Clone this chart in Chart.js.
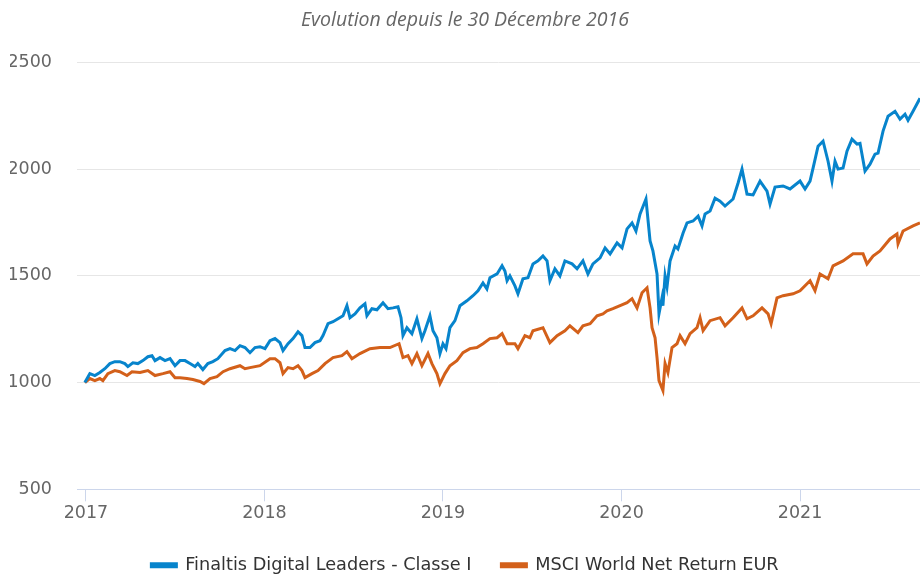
<!DOCTYPE html>
<html>
<head>
<meta charset="utf-8">
<script src="https://cdn.jsdelivr.net/npm/chart.js@4"></script>
<style>
  body { margin: 0; background: #fff; }
</style>
</head>
<body>
<canvas id="myChart" width="920" height="575"></canvas>
<script>
// dates as decimal years, values rebased to 1000 on 30/12/2016
var fundYears = [2016.994,2017.022,2017.050,2017.078,2017.106,2017.134,2017.162,2017.190,2017.218,2017.235,2017.263,2017.291,2017.319,2017.347,2017.370,2017.387,2017.415,2017.443,2017.471,2017.499,2017.527,2017.555,2017.583,2017.611,2017.627,2017.655,2017.683,2017.711,2017.739,2017.779,2017.807,2017.835,2017.863,2017.891,2017.919,2017.947,2017.975,2018.003,2018.031,2018.059,2018.087,2018.104,2018.132,2018.160,2018.188,2018.210,2018.227,2018.255,2018.283,2018.311,2018.328,2018.356,2018.384,2018.412,2018.440,2018.462,2018.479,2018.507,2018.535,2018.563,2018.574,2018.602,2018.630,2018.664,2018.692,2018.720,2018.748,2018.765,2018.776,2018.798,2018.826,2018.854,2018.882,2018.899,2018.927,2018.944,2018.966,2018.983,2019.000,2019.017,2019.039,2019.067,2019.095,2019.134,2019.168,2019.196,2019.224,2019.246,2019.263,2019.303,2019.331,2019.347,2019.359,2019.375,2019.403,2019.420,2019.448,2019.476,2019.504,2019.532,2019.560,2019.583,2019.599,2019.627,2019.655,2019.683,2019.723,2019.751,2019.784,2019.812,2019.840,2019.880,2019.908,2019.936,2019.975,2020.003,2020.031,2020.059,2020.081,2020.104,2020.137,2020.160,2020.176,2020.199,2020.210,2020.227,2020.232,2020.244,2020.255,2020.272,2020.300,2020.316,2020.345,2020.367,2020.401,2020.429,2020.451,2020.468,2020.496,2020.524,2020.552,2020.580,2020.625,2020.653,2020.675,2020.703,2020.737,2020.776,2020.815,2020.832,2020.860,2020.905,2020.944,2021.000,2021.028,2021.056,2021.073,2021.101,2021.129,2021.157,2021.179,2021.196,2021.213,2021.241,2021.263,2021.291,2021.319,2021.336,2021.364,2021.392,2021.420,2021.437,2021.465,2021.493,2021.532,2021.560,2021.588,2021.605,2021.633,2021.672];
var fundValues = [1000,1042,1033,1047,1065,1089,1098,1098,1089,1075,1093,1089,1103,1121,1126,1103,1117,1103,1112,1079,1103,1103,1089,1075,1089,1061,1089,1098,1112,1150,1159,1150,1173,1164,1140,1164,1168,1159,1196,1206,1187,1150,1182,1206,1238,1220,1164,1164,1187,1196,1220,1276,1285,1299,1313,1360,1304,1322,1350,1369,1313,1346,1341,1374,1346,1350,1355,1304,1220,1257,1229,1299,1206,1243,1313,1243,1210,1136,1182,1159,1257,1290,1360,1383,1407,1430,1467,1439,1491,1509,1547,1523,1477,1500,1453,1416,1486,1491,1556,1570,1593,1570,1477,1533,1500,1570,1556,1533,1570,1509,1556,1584,1631,1603,1654,1631,1720,1748,1710,1790,1860,1664,1617,1509,1322,1397,1360,1500,1449,1570,1640,1626,1701,1748,1757,1780,1734,1790,1804,1864,1850,1827,1860,1935,2000,1883,1879,1944,1897,1836,1916,1921,1907,1944,1907,1944,2005,2107,2131,2037,1944,2037,2000,2005,2084,2140,2117,2121,1991,2023,2070,2075,2178,2248,2271,2234,2257,2229,2271,2332];

var indexYears = [2016.994,2017.022,2017.050,2017.078,2017.095,2017.123,2017.162,2017.190,2017.230,2017.258,2017.303,2017.347,2017.387,2017.431,2017.471,2017.499,2017.527,2017.566,2017.599,2017.639,2017.661,2017.695,2017.734,2017.768,2017.807,2017.863,2017.891,2017.919,2017.975,2018.031,2018.059,2018.087,2018.104,2018.132,2018.160,2018.188,2018.210,2018.227,2018.266,2018.300,2018.339,2018.384,2018.434,2018.462,2018.490,2018.535,2018.591,2018.647,2018.703,2018.754,2018.776,2018.804,2018.826,2018.854,2018.882,2018.916,2018.938,2018.966,2018.983,2019.011,2019.039,2019.078,2019.112,2019.151,2019.190,2019.224,2019.263,2019.303,2019.331,2019.359,2019.403,2019.420,2019.459,2019.487,2019.504,2019.560,2019.599,2019.639,2019.683,2019.711,2019.756,2019.784,2019.824,2019.863,2019.896,2019.919,2019.952,2019.992,2020.031,2020.059,2020.087,2020.115,2020.143,2020.160,2020.171,2020.188,2020.199,2020.210,2020.232,2020.244,2020.260,2020.283,2020.311,2020.328,2020.356,2020.384,2020.423,2020.440,2020.457,2020.496,2020.552,2020.580,2020.625,2020.675,2020.703,2020.737,2020.787,2020.821,2020.838,2020.871,2020.905,2020.961,2021.000,2021.056,2021.084,2021.112,2021.157,2021.185,2021.241,2021.297,2021.353,2021.375,2021.409,2021.448,2021.504,2021.543,2021.549,2021.577,2021.633,2021.672];
var indexValues = [1000,1019,1009,1019,1009,1042,1056,1051,1033,1051,1047,1056,1033,1042,1051,1023,1023,1019,1014,1005,995,1019,1028,1051,1065,1079,1065,1070,1079,1112,1112,1093,1042,1070,1065,1079,1056,1023,1042,1056,1089,1117,1126,1145,1112,1136,1159,1164,1164,1182,1117,1126,1089,1136,1079,1136,1089,1042,995,1042,1079,1103,1140,1159,1164,1182,1206,1210,1229,1182,1182,1159,1220,1210,1243,1257,1187,1220,1243,1266,1234,1266,1276,1313,1322,1336,1346,1360,1374,1393,1350,1421,1444,1350,1257,1210,1117,1009,963,1089,1047,1164,1182,1220,1182,1229,1257,1304,1243,1290,1304,1266,1304,1350,1299,1313,1350,1322,1276,1397,1407,1416,1430,1477,1430,1509,1486,1547,1570,1603,1603,1556,1593,1617,1673,1696,1650,1710,1734,1748];

var seriesNames = ['Finaltis Digital Leaders - Classe I', 'MSCI World Net Return EUR'];
var seriesColors = ['#0784cc', '#d3601a'];
var yTicks = [500, 1000, 1500, 2000, 2500];
var xTicks = [2017, 2018, 2019, 2020, 2021];

function toPoints(xs, ys) {
    return xs.map(function (x, i) { return { x: x, y: ys[i] }; });
}

var ctx = document.getElementById('myChart').getContext('2d');
var myChart = new Chart(ctx, {
    type: 'line',
    data: {
        datasets: [{
            label: seriesNames[0],
            data: toPoints(fundYears, fundValues),
            borderColor: seriesColors[0],
            backgroundColor: seriesColors[0],
            borderWidth: 3,
            pointRadius: 0,
            tension: 0
        }, {
            label: seriesNames[1],
            data: toPoints(indexYears, indexValues),
            borderColor: seriesColors[1],
            backgroundColor: seriesColors[1],
            borderWidth: 3,
            pointRadius: 0,
            tension: 0
        }]
    },
    options: {
        responsive: false,
        animation: false,
        layout: { padding: { left: 10, right: 0, top: 4, bottom: -9 } },
        plugins: {
            title: {
                display: true,
                text: 'Evolution depuis le 30 Décembre 2016',
                color: '#666666',
                font: { family: 'Open Sans', size: 19.5, style: 'italic', weight: 'normal' },
                padding: { top: 5, bottom: 30 }
            },
            legend: {
                position: 'bottom',
                labels: {
                    boxWidth: 25,
                    boxHeight: 3,
                    padding: 30,
                    color: '#333333',
                    font: { family: 'DejaVu Sans', size: 17.7 }
                }
            },
            tooltip: { enabled: false }
        },
        scales: {
            x: {
                type: 'linear',
                min: 2016.95,
                max: 2021.672,
                afterBuildTicks: function (scale) {
                    scale.ticks = xTicks.map(function (v) { return { value: v }; });
                },
                ticks: {
                    color: '#666666',
                    font: { family: 'DejaVu Sans', size: 17.5 },
                    padding: 2,
                    maxRotation: 0,
                    callback: function (v) { return String(v); }
                },
                grid: { drawOnChartArea: false, drawTicks: true, tickLength: 12, color: '#ccd6eb' },
                border: { color: '#ccd6eb' }
            },
            y: {
                min: 500,
                max: 2500,
                afterBuildTicks: function (scale) {
                    scale.ticks = yTicks.map(function (v) { return { value: v }; });
                },
                afterFit: function (scale) { scale.width = 67; },
                ticks: {
                    color: '#666666',
                    font: { family: 'DejaVu Sans', size: 17.5 },
                    padding: 25,
                    callback: function (v) { return String(v); }
                },
                grid: { color: '#e6e6e6', drawTicks: false },
                border: { display: false }
            }
        }
    }
});
</script>
</body>
</html>
